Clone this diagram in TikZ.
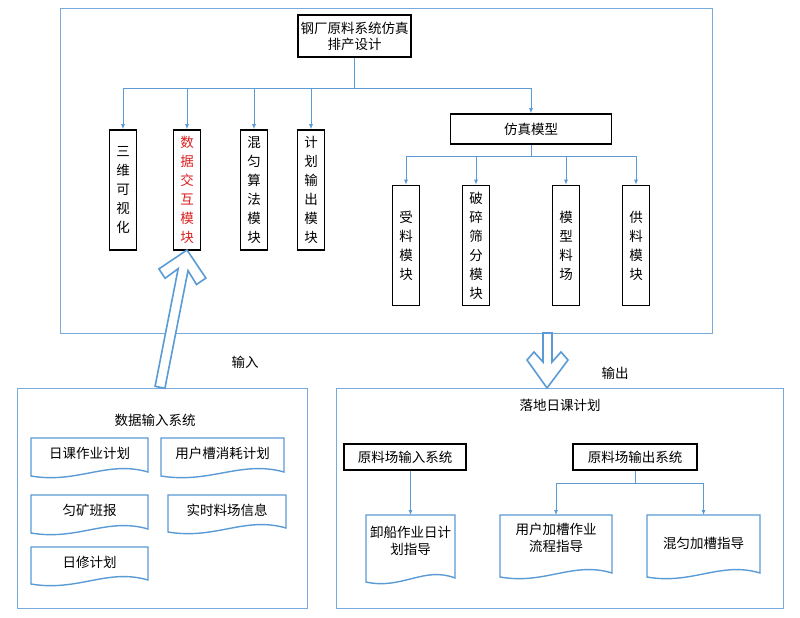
\documentclass[tikz,border=0pt]{standalone}
\usepackage{fontspec}
\setmainfont{Noto Sans CJK SC}
\begin{document}
\begin{tikzpicture}[x=1pt,y=-1pt,
  lb/.style={draw={rgb,255:red,91;green,155;blue,213}},
  frame/.style={draw={rgb,255:red,120;green,170;blue,220},line width=0.8pt},
  bx/.style={draw=black,line width=1.6pt,inner sep=0pt,font=\fontsize{13.5}{16}\selectfont,align=center},
  vb/.style={bx,minimum width=27pt,minimum height=120pt,font=\fontsize{13.5}{19}\selectfont},
  con/.style={lb,line width=0.8pt,-{Latex[length=5pt,width=4pt]}},
  hollow/.style={draw={rgb,255:red,91;green,155;blue,213},line width=1.6pt,fill=white,line join=miter},
  txt/.style={font=\fontsize{13.5}{17}\selectfont,align=center}]
\usetikzlibrary{arrows.meta}
\useasboundingbox (0,0) rectangle (800,618);
\fill[white] (0,0) rectangle (800,618);
% frames
\node[frame,minimum width=652pt,minimum height=325pt,inner sep=0pt] (top) at (386,170.5) {};
\node[frame,minimum width=290pt,minimum height=220pt,inner sep=0pt] (lf) at (162,498) {};
\node[frame,minimum width=447pt,minimum height=220pt,inner sep=0pt] (rf) at (559.5,498) {};
% root
\node[bx,minimum width=113pt,minimum height=42pt] (root) at (354.5,36) {钢厂原料系统仿真\\排产设计};
\node[vb] (v1) at (123,190) {三\\维\\可\\视\\化};
\node[vb,text={rgb,255:red,220;green,30;blue,30}] (v2) at (187,190) {数\\据\\交\\互\\模\\块};
\node[vb] (v3) at (254,190) {混\\匀\\算\\法\\模\\块};
\node[vb] (v4) at (311,190) {计\\划\\输\\出\\模\\块};
\node[bx,minimum width=161pt,minimum height=30pt] (fz) at (531,129) {仿真模型};
\node[vb] (w1) at (406,245.5) {受\\料\\模\\块};
\node[vb] (w2) at (476,245.5) {破\\碎\\筛\\分\\模\\块};
\node[vb] (w3) at (566,245.5) {模\\型\\料\\场};
\node[vb] (w4) at (636,245.5) {供\\料\\模\\块};
\coordinate (j1) at (354.5,88);
\draw[lb,line width=0.8pt] (root.south) -- (j1);
\draw[lb,line width=0.8pt] (123,88) -- (531,88);
\foreach \n/\x in {v1/123,v2/187,v3/254,v4/311,fz/531} \draw[con] (\x,88) -- (\n.north);
\draw[lb,line width=0.8pt] (fz.south) -- (531,156);
\draw[lb,line width=0.8pt] (406,156) -- (636,156);
\foreach \n/\x in {w1/406,w2/476,w3/566,w4/636} \draw[con] (\x,156) -- (\n.north);
% hollow arrows
\draw[hollow] (187,250) -- (205.9,278.1) -- (196.5,284.5) -- (188.0,270.6) -- (164.9,388.3) -- (155.1,386.3) -- (178.2,268.6) -- (165.1,278.3) -- (158.9,268.9) -- cycle;
\draw[hollow] (543,333) -- (552,333) -- (552,362) -- (561,352) -- (568,360) -- (547,388) -- (527,360) -- (534,352) -- (543,362) -- cycle;
\node[txt] (lin) at (245,362) {输入};
\node[txt] (lout) at (615,373) {输出};
% left frame
\node[txt] (t1) at (155,420) {数据输入系统};
\foreach \nm/\xa/\xb/\ya/\yb/\t in {d1/31/148/438/476/日课作业计划,d2/161/284/438/476/用户槽消耗计划,d3/31/148/495/533/匀矿班报,d4/168/286/495/532/实时料场信息,d5/31/148/547/584/日修计划}{
  \draw[lb,line width=1.4pt] (\xa,\ya) -- (\xb,\ya) -- (\xb,\yb-4) .. controls ({\xb-0.35*(\xb-\xa)},\yb-16) and ({\xa+0.4*(\xb-\xa)},\yb+8) .. (\xa,\yb) -- cycle;
  \node[txt] (\nm) at ({(\xa+\xb)/2},\ya+15) {\t};
}
% right frame
\node[txt] (t2) at (560,405) {落地日课计划};
\node[bx,minimum width=122pt,minimum height=26pt] (in) at (405,457) {原料场输入系统};
\node[bx,minimum width=124pt,minimum height=26pt] (out) at (635,457) {原料场输出系统};
\foreach \nm/\xa/\xb/\ya/\yb in {e1/366/455/515/582,e2/500/612/515/577,e3/647/760/515/577}{
  \draw[lb,line width=1.4pt] (\xa,\ya) -- (\xb,\ya) -- (\xb,\yb-4) .. controls ({\xb-0.35*(\xb-\xa)},\yb-16) and ({\xa+0.4*(\xb-\xa)},\yb+8) .. (\xa,\yb) -- cycle;
  \coordinate (\nm) at ({(\xa+\xb)/2},\ya);
}
\node[txt] (e1t) at (410.5,541) {卸船作业日计\\划指导};
\node[txt] (e2t) at (556,538) {用户加槽作业\\流程指导};
\node[txt] (e3t) at (703.5,543) {混匀加槽指导};
\draw[con] (in.south -| e1) -- (e1);
\draw[lb,line width=0.8pt] (out.south) -- (635,483);
\draw[lb,line width=0.8pt] (556,483) -- (703.5,483);
\draw[con] (556,483) -- (e2);
\draw[con] (703.5,483) -- (e3);
\end{tikzpicture}
\end{document}
